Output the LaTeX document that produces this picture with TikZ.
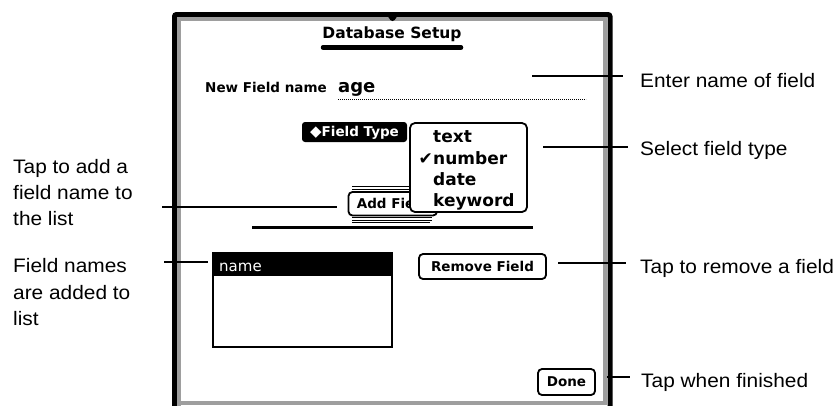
\documentclass[tikz,border=0pt]{standalone}
\usepackage{fontspec}
\newfontfamily\annotfont[FakeStretch=1.07]{Liberation Sans}
\newfontfamily\newtfont{DejaVu Sans}
\definecolor{framegray}{RGB}{158,158,158}
\begin{document}
\begin{tikzpicture}[x=1pt,y=-1pt,
  annot/.style={font=\annotfont\fontsize{19.5}{26.3}\selectfont, inner sep=0, anchor=base west},
  annotml/.style={font=\annotfont\fontsize{19.5}{26.3}\selectfont, inner sep=0, anchor=north west, align=left},
  callout/.style={line width=1.6},
  uibold/.style={font=\newtfont\bfseries\fontsize{13.5}{16}\selectfont},
  uibtn/.style={draw, line width=1.8, rounded corners=4, fill=white, inner sep=0, uibold, text height=9.8, text depth=0},
  menuitem/.style={font=\newtfont\bfseries\fontsize{17}{20}\selectfont, inner sep=0, anchor=base west},
  thinline/.style={line width=0.9},
]
\useasboundingbox (0,0) rectangle (838,405);

% window frame
\draw[line width=5, rounded corners=2] (174.5,406) -- (174.5,14.5) -- (610,14.5) -- (610,406);
\draw[framegray, line width=4] (179,406) -- (179,18.5) -- (605,18.5) -- (605,403) -- (179,403);
\fill (385,13) .. controls (388,14) and (389,21) .. (392.5,21) .. controls (396,21) and (397,14) .. (400,13) -- cycle;

% title
\node[font=\newtfont\bfseries\fontsize{15.5}{18}\selectfont, inner sep=0, anchor=base] (title) at (392,38.5) {Database Setup};
\draw[line width=4.5, line cap=round] (323,47.5) -- (461,47.5);

% new field name
\node[uibold, inner sep=0, anchor=base west] (nfname) at (205,92) {New Field name};
\node[font=\newtfont\bfseries\fontsize{18}{20}\selectfont, inner sep=0, anchor=base west] (age) at (338,92) {age};
\draw[line width=0.9, dash pattern=on 0.9pt off 1.1pt] (338,99) -- (586,99);

% field type label
\node[fill=black, text=white, rounded corners=3, minimum width=105, minimum height=20, inner sep=0, uibold, text height=9.8, text depth=0] (ftype) at (354.5,132) {{\fontsize{15}{16}\selectfont\symbol{"25C6}}Field Type};

% add field button (partly hidden)
\draw[thinline] (352,186) -- (410,186);
\draw[thinline] (352,189) -- (410,189);
\draw[thinline] (352,217.8) -- (432,217.8);
\draw[thinline] (352,220.3) -- (432,220.3);
\draw[thinline] (352,222.8) -- (430,222.8);
\node[uibtn, minimum width=88.5, minimum height=23.5] (addbtn) at (392.75,203.75) {Add Field};

% popup menu
\node[draw, line width=1.8, rounded corners=5, fill=white, minimum width=117, minimum height=89, inner sep=0] (popup) at (468.5,167.5) {};
\node[menuitem] (mtext) at (433,142.5) {text};
\node[menuitem] (mnumber) at (433,164) {number};
\node[menuitem, anchor=base east] (mcheck) at (433,164) {\symbol{"2714}};
\node[menuitem] (mdate) at (433,185.3) {date};
\node[menuitem] (mkey) at (433,206.7) {keyword};

% separator
\draw[line width=2.8] (252,227.3) -- (533,227.3);

% list
\node[draw, line width=1.2, minimum width=179, minimum height=94, inner sep=0] (listbox) at (302.5,300) {};
\node[fill=black, minimum width=179, minimum height=23, inner sep=0, anchor=north west] (listsel) at (213,253) {};
\node[font=\newtfont\fontsize{15}{18}\selectfont, text=white, inner sep=0, anchor=base west] (listname) at (219,271) {name};

% buttons
\node[uibtn, minimum width=127, minimum height=25] (removebtn) at (482.5,266.5) {Remove Field};
\node[uibtn, minimum width=57, minimum height=26] (donebtn) at (566.5,382) {Done};

% annotations
\node[annot] (enterlbl) at (640,87) {Enter name of field};
\node[annot] (selectlbl) at (640,155) {Select field type};
\node[annot] (removelbl) at (640,273) {Tap to remove a field};
\node[annot] (donelbl) at (641,387) {Tap when finished};
\node[annotml] (addlbl) at (13,159) {Tap to add a\\field name to\\the list};
\node[annotml] (namelbl) at (13,258.5) {Field names\\are added to\\list};

% callout connectors
\coordinate (enterA) at (532,76);   \coordinate (enterB) at (623,76);
\coordinate (selA) at (543,147);    \coordinate (selB) at (628,147);
\coordinate (addA) at (162,207);    \coordinate (addB) at (337,207);
\coordinate (nameA) at (164,262);   \coordinate (nameB) at (208,262);
\coordinate (remA) at (558,263);    \coordinate (remB) at (626,263);
\coordinate (doneA) at (607,377);   \coordinate (doneB) at (630,377);
\draw[callout] (enterA) -- (enterB);
\draw[callout] (selA) -- (selB);
\draw[callout] (addA) -- (addB);
\draw[callout] (nameA) -- (nameB);
\draw[callout] (remA) -- (remB);
\draw[callout] (doneA) -- (doneB);
\end{tikzpicture}
\end{document}
